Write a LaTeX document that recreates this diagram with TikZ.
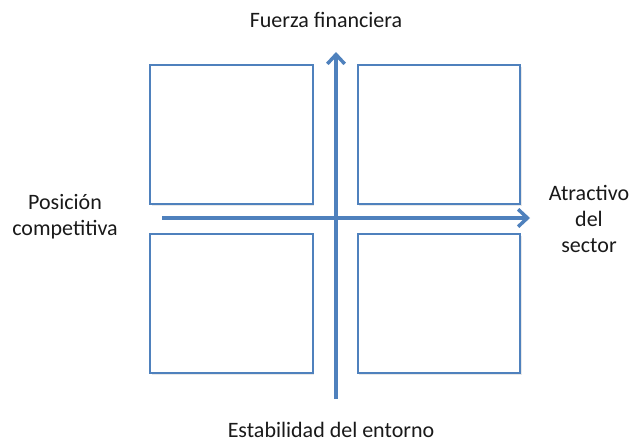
\documentclass[tikz,border=0pt]{standalone}
\usepackage{fontspec}
\setmainfont{Carlito}
\usepackage{tikz}
\usetikzlibrary{
  arrows, arrows.meta,
  positioning,
  shadows
}
\definecolor{officeblue}{HTML}{4F81BD}
\tikzset{
  quad/.style = {rectangle, draw=officeblue, line width=1.5pt, fill=white,
      minimum width=#1, minimum height=104pt, inner sep=0pt, outer sep=0pt,
      drop shadow={shadow xshift=1.2pt, shadow yshift=-1.5pt, opacity=.18}},
  quad/.default = 122pt, % box width
  axis/.style = {officeblue, line width=3pt,
      -{Straight Barb[length=7pt, width=13pt, line width=2.6pt]}},
  axshadow/.style = {line width=3pt, black!12, shift={(1pt,-1.5pt)}},
  lbl/.style = {align=center, font=\fontsize{16.5}{19.5}\selectfont,
      text=black!90, inner sep=0pt},
}

\begin{document}
\begin{tikzpicture}[x=.75pt, y=-.75pt]
  \useasboundingbox (0,0) rectangle (641,443);

  % the four quadrants
  \node[quad] (nw) at (231.5,134.5) {};
  \node[quad] (ne) at (439,134.5) {};
  \node[quad] (sw) at (231.5,303.5) {};
  \node[quad] (se) at (439,303.5) {};

  % axes
  \coordinate (hbeg) at (162,218);
  \coordinate (hend) at (530,218);
  \coordinate (vbeg) at (336,399);
  \coordinate (vend) at (336,52);
  \draw[axshadow] (hbeg) -- ([xshift=-5pt]hend);
  \draw[axshadow] (vbeg) -- ([yshift=-5pt]vend);
  \draw[axis] (vbeg) -- (vend);
  \draw[axis] (hbeg) -- (hend);

  % labels
  \node[lbl] (top) at (326,20) {Fuerza financiera};
  \node[lbl] (left) at (65,217) {Posición\\competitiva};
  \node[lbl] (right) at (589,219) {Atractivo\\del\\sector};
  \node[lbl] (bottom) at (331,430) {Estabilidad del entorno};
\end{tikzpicture}
\end{document}
